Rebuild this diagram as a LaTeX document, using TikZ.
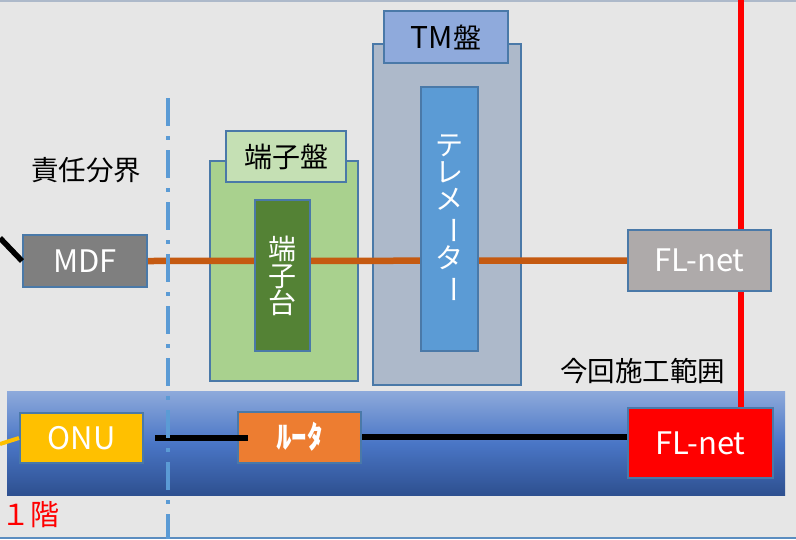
\documentclass[tikz,border=0pt]{standalone}
\usepackage{fontspec}
\setmainfont{Noto Sans CJK JP}
\definecolor{bgc}{HTML}{E6E6E6}
\definecolor{topl}{HTML}{ADB9CA}
\definecolor{botl}{HTML}{5B8DC0}
\definecolor{edge}{HTML}{4A79A8}
\definecolor{mdfc}{HTML}{7F7F7F}
\definecolor{tbout}{HTML}{A9D18E}
\definecolor{tblab}{HTML}{C5E0B4}
\definecolor{tbin}{HTML}{548235}
\definecolor{tmout}{HTML}{ADB9CA}
\definecolor{tmlab}{HTML}{8FAADC}
\definecolor{tmin}{HTML}{5B9BD5}
\definecolor{flg}{HTML}{AEAAAA}
\definecolor{orl}{HTML}{C55A11}
\definecolor{onuc}{HTML}{FFC000}
\definecolor{rtc}{HTML}{ED7D31}
\definecolor{bandt}{HTML}{8EAADB}
\definecolor{bandm}{HTML}{4A76C6}
\definecolor{bandb}{HTML}{2E5090}
\definecolor{ddl}{HTML}{5B9BD5}
\begin{document}
\begin{tikzpicture}[x=1pt,y=-1pt,
  box/.style={draw=edge,line width=2pt,inner sep=0pt,align=center,
    font=\fontsize{28}{27}\selectfont},
  latin/.style={font=\fontsize{31}{31}\selectfont},
  wt/.style={text=white},
  bt/.style={text=black},
  lbl/.style={inner sep=0pt,font=\fontsize{27.5}{28}\selectfont}]
\useasboundingbox (0,0) rectangle (796,539);
\fill[bgc] (0,0) rectangle (796,539);
\draw[topl,line width=2.5pt] (0,1) -- (796,1);
\draw[botl,line width=2.5pt] (0,538) -- (796,538);

% band
\shade[top color=bandt,bottom color=bandb,middle color=bandm] (7,391) rectangle (785,495);

\coordinate (redtop) at (741,0);

% panels
\node[box,fill=tbout,minimum width=148pt,minimum height=220pt] (tbpanel) at (284,271) {};
\node[box,fill=tmout,minimum width=148pt,minimum height=341pt] (tmpanel) at (447,214.5) {};
\node[box,fill=tblab,bt,minimum width=120pt,minimum height=51pt] (tblabel) at (286,156.5) {端子盤};
\node[box,fill=tmlab,bt,minimum width=124pt,minimum height=52pt] (tmlabel) at (446,37) {{\fontsize{30}{30}\selectfont TM}盤};

\node[box,latin,fill=mdfc,wt,minimum width=124pt,minimum height=52pt] (mdf) at (85,261) {MDF};
\node[box,draw=none,minimum width=143pt,minimum height=61pt] (fl1) at (699.5,260.5) {};
\node[box,draw=none,minimum width=145pt,minimum height=70pt] (fl2) at (700.5,443) {};

\draw[red,line width=6pt] (redtop) -- (redtop |- fl2.north);
\node[box,latin,fill=flg,wt,minimum width=143pt,minimum height=61pt] (fl1b) at (fl1) {FL-net};

% orange line
\draw[orl,line width=6.5pt] (mdf.east) -- (fl1.west);

% inner blocks
\node[box,fill=tbin,wt,minimum width=55pt,minimum height=151pt] (tbblock) at (282.5,275.5) {端\\子\\台};
\node[box,fill=tmin,wt,minimum width=57pt,minimum height=264pt] (tele) at (449.5,219)
  {テ\\レ\\メ\\\rotatebox[origin=c]{-90}{ー}\\タ\\\rotatebox[origin=c]{-90}{ー}};

% left lines
\coordinate (mdfin) at (0,238);
\draw[black,line width=5.5pt] (mdfin) -- (mdf.west);

% bottom row
\node[box,latin,fill=onuc,wt,minimum width=123pt,minimum height=50pt] (onu) at (81.5,438) {ONU};
\node[box,fill=rtc,wt,minimum width=123pt,minimum height=51pt,font=\fontsize{31}{31}\selectfont\bfseries] (router) at (299.5,437) {ﾙｰﾀ};
\node[box,latin,fill=red,wt,minimum width=145pt,minimum height=70pt] (fl2b) at (fl2) {FL-net};
\coordinate (onuin) at (0,444);
\draw[onuc,line width=4pt] (onuin) -- (onu.west);
\draw[black,line width=5.5pt] ([xshift=11pt]onu.east) -- ([xshift=11pt]onu.east -| router.west);
\draw[black,line width=5.5pt] (router.east) -- (router.east -| fl2.west);

% texts
\node[lbl,anchor=west] (resp) at (31,170) {責任分界};
\node[lbl,anchor=west] (scope) at (560,371) {今回施工範囲};
\node[lbl,anchor=west,text=red,font=\fontsize{29}{29}\selectfont] (floor) at (1,515) {１階};

% dash-dot boundary
\coordinate (ddtop) at (168,98);
\coordinate (ddbot) at (168,539);
\draw[ddl,line width=3.5pt,dash pattern=on 28pt off 10pt on 4pt off 10pt] (ddtop) -- (ddbot);
\end{tikzpicture}
\end{document}
